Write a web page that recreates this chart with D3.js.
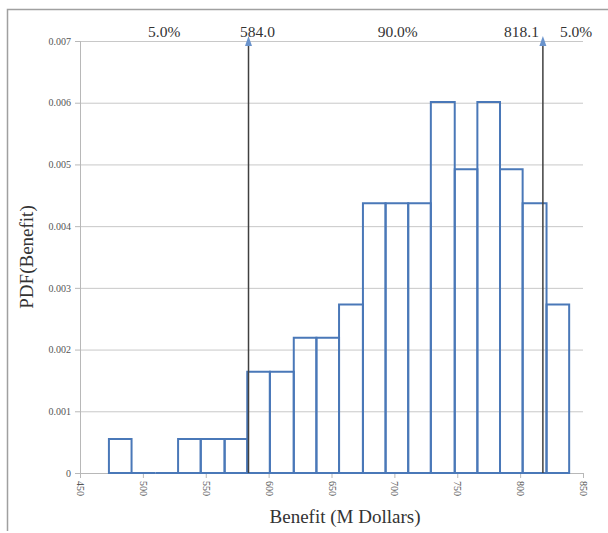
<!DOCTYPE html>
<html>
<head>
<meta charset="utf-8">
<script src="https://cdn.jsdelivr.net/npm/d3@7/dist/d3.min.js"></script>
<style>
  body { margin: 0; background: #fff; }
  svg text { font-family: "Liberation Serif", "Times New Roman", serif; }
</style>
</head>
<body>
<svg id="chart"></svg>
<script>
// bin edges (M Dollars) and density per bin
var binEdges = [473, 491, 510, 528, 546, 565, 583, 601, 620, 638, 656, 675, 693, 711, 729, 748, 766, 784, 802, 821, 839];
var pdfValues = [0.00055, 0, 0, 0.00055, 0.00055, 0.00055, 0.00164, 0.00164, 0.00219, 0.00219,
                 0.00273, 0.00437, 0.00437, 0.00437, 0.00601, 0.00492, 0.00601, 0.00492, 0.00437, 0.00273];
var xTicks = [450, 500, 550, 600, 650, 700, 750, 800, 850];
var yTicks = [0, 0.001, 0.002, 0.003, 0.004, 0.005, 0.006, 0.007];
var markers = [584.0, 818.1];
var markerLabels = ["584.0", "818.1"];
var pctLabels = ["5.0%", "90.0%", "5.0%"];

var W = 608, H = 533;
var serif = '"Liberation Serif", "Times New Roman", serif';
var svg = d3.select("#chart").attr("width", W).attr("height", H);

// frame (top + left edge visible)
svg.append("path")
  .attr("d", "M7.5,531 L7.5,9.5 L608,9.5")
  .attr("fill", "none").attr("stroke", "#a0a0a0").attr("stroke-width", 1.5);

var x = d3.scaleLinear().domain([450, 850]).range([80, 583]);
var y = d3.scaleLinear().domain([0, 0.007]).range([473, 41]);

// gridlines
svg.append("g").selectAll("line").data(yTicks.slice(1)).enter().append("line")
  .attr("x1", x(450)).attr("x2", x(850))
  .attr("y1", function(d) { return y(d) + 0.5; })
  .attr("y2", function(d) { return y(d) + 0.5; })
  .attr("stroke", "#c8c8c8").attr("stroke-width", 1);

// y axis
var yAxis = d3.axisLeft(y).tickValues(yTicks).tickSize(5).tickPadding(4)
  .tickFormat(function(d) { return d === 0 ? "0" : d3.format(".3f")(d); });
var yG = svg.append("g").attr("transform", "translate(" + x(450) + ",0)").call(yAxis)
  .attr("font-family", serif);
yG.select(".domain").attr("stroke", "#b8b8b8");
yG.selectAll(".tick line").attr("stroke", "#b8b8b8");
yG.selectAll(".tick text").attr("fill", "#555").style("font-size", "10px");

// x axis
var xAxis = d3.axisBottom(x).tickValues(xTicks).tickSize(5).tickPadding(4);
var xG = svg.append("g").attr("transform", "translate(0," + y(0) + ")").call(xAxis)
  .attr("font-family", serif);
xG.select(".domain").attr("stroke", "#b8b8b8");
xG.selectAll(".tick line").attr("stroke", "#b8b8b8");
xG.selectAll(".tick text")
  .attr("fill", "#555").style("font-size", "10px")
  .attr("transform", "rotate(90)")
  .attr("text-anchor", "start")
  .attr("x", 8).attr("y", 0).attr("dy", "0.35em");

// histogram bars (paths so that empty bins still show along the baseline)
var bins = pdfValues.map(function(v, i) { return {x0: binEdges[i], x1: binEdges[i + 1], v: v}; });
svg.append("g").selectAll("path").data(bins).enter().append("path")
  .attr("d", function(d) {
    var a = x(d.x0), b = x(d.x1), base = y(0), top = y(d.v);
    return "M" + a + "," + base + " V" + top + " H" + b + " V" + base + " Z";
  })
  .attr("fill", "none")
  .attr("stroke", "#4a78b8")
  .attr("stroke-width", 2);

// marker lines with arrows
var mG = svg.append("g").selectAll("g").data(markers).enter().append("g");
mG.append("line")
  .attr("x1", function(d) { return x(d); }).attr("x2", function(d) { return x(d); })
  .attr("y1", y(0)).attr("y2", y(0.007) + 4)
  .attr("stroke", "#404040").attr("stroke-width", 1.5);
mG.append("path")
  .attr("d", function(d) {
    var cx = x(d), t = y(0.007) - 5;
    return "M" + cx + "," + t + " L" + (cx - 3.5) + "," + (t + 10) + " L" + (cx + 3.5) + "," + (t + 10) + " Z";
  })
  .attr("fill", "#6a93cc");

// top labels
var topY = 37;
var tl = svg.append("g").style("font-size", "15.5px").attr("fill", "#333");
tl.append("text").attr("x", x((450 + markers[0]) / 2)).attr("y", topY)
  .attr("text-anchor", "middle").text(pctLabels[0]);
tl.append("text").attr("x", x(markers[0]) + 9).attr("y", topY)
  .attr("text-anchor", "middle").text(markerLabels[0]);
tl.append("text").attr("x", x((markers[0] + markers[1]) / 2) + 2).attr("y", topY)
  .attr("text-anchor", "middle").text(pctLabels[1]);
tl.append("text").attr("x", x(markers[1]) - 4).attr("y", topY)
  .attr("text-anchor", "end").text(markerLabels[1]);
tl.append("text").attr("x", x(markers[1]) + 17).attr("y", topY)
  .attr("text-anchor", "start").text(pctLabels[2]);

// axis titles
svg.append("text").attr("x", 345).attr("y", 523)
  .attr("text-anchor", "middle").style("font-size", "19px").attr("fill", "#333")
  .text("Benefit (M Dollars)");
svg.append("text").attr("transform", "translate(33,257) rotate(-90)")
  .attr("text-anchor", "middle").style("font-size", "19px").attr("fill", "#333")
  .text("PDF(Benefit)");
</script>
</body>
</html>
